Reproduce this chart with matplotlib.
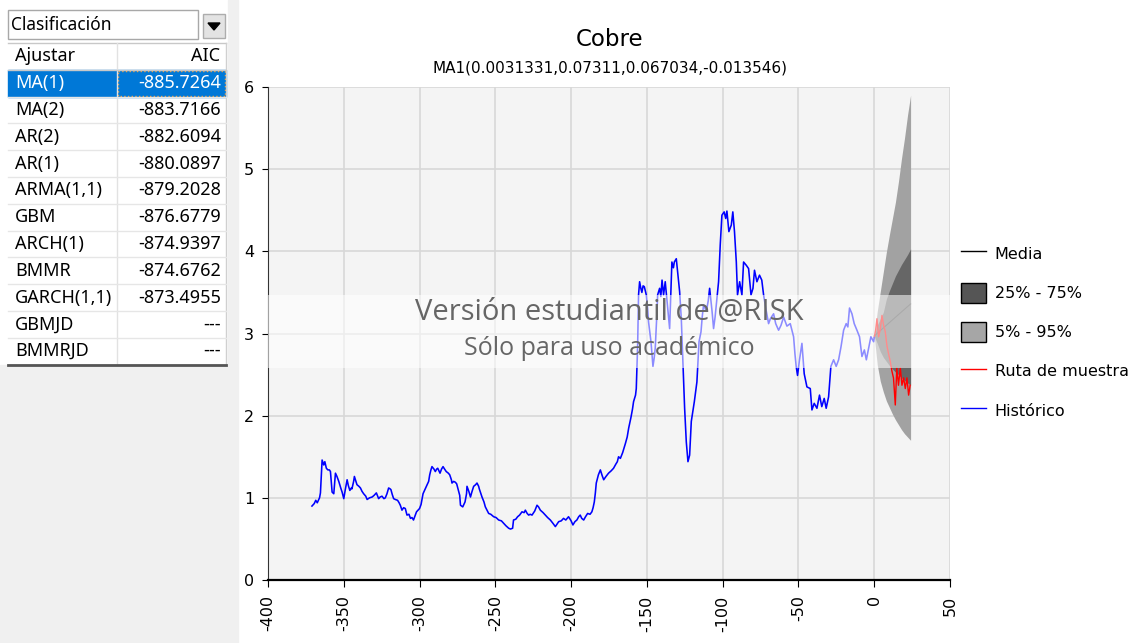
import matplotlib.pyplot as plt
from matplotlib.patches import Rectangle, Patch, Polygon
from matplotlib.lines import Line2D

plt.rcParams['axes.unicode_minus'] = False

# ---- data ----
models = ["MA(1)", "MA(2)", "AR(2)", "AR(1)", "ARMA(1,1)", "GBM", "ARCH(1)",
          "BMMR", "GARCH(1,1)", "GBMJD", "BMMRJD"]
aic = ["-885.7264", "-883.7166", "-882.6094", "-880.0897", "-879.2028", "-876.6779",
       "-874.9397", "-874.6762", "-873.4955", "---", "---"]

hist_t = [-371, -369.5, -368.5, -367.5, -366, -365.4, -364.3, -363.2, -362.5, -361.5,
          -360.5, -359.5, -358.8, -357.7, -356.6, -355.5, -354.5, -353.3, -352, -351.1,
          -350, -349, -347.8, -347, -346, -345, -344.6, -343.5, -343, -342,
          -341.3, -340, -339, -338, -336.9, -335.5, -334.6, -333, -331.3, -330,
          -328.5, -327, -326, -324.8, -323.5, -322.6, -321.5, -320.4, -319.5, -318.9,
          -318, -317.1, -316, -314.5, -313.5, -312.7, -311.6, -310.5, -309.4, -308.3,
          -307, -306, -305, -304, -303, -302, -301, -300, -299, -297.7,
          -296.5, -295, -294, -293.3, -292.5, -291.8, -290.5, -289.6, -288.7, -288,
          -287, -286.5, -285.5, -284.5, -283.5, -282.4, -281, -280.1, -279, -278.6,
          -277.5, -276.4, -275.5, -274.5, -273.5, -273, -271.5, -270.5, -270, -269,
          -268.7, -267.5, -266.4, -265.5, -264.3, -263, -262.1, -261, -260.6, -259.5,
          -258.8, -257.5, -256.6, -255.5, -254.4, -253, -251.1, -249.5, -247.8, -246,
          -244.5, -243, -241.2, -240, -238.6, -238, -236.5, -235.3, -234, -232.4,
          -231, -230.2, -229, -228, -227, -225.8, -224, -222.5, -221.5, -220.3,
          -218.5, -217, -215.5, -213.7, -212, -210.4, -209.3, -208.2, -206.5, -205,
          -203.5, -201.7, -200, -198.8, -197.5, -196.2, -195, -194, -193, -191.7,
          -190.5, -189.1, -187.5, -186.3, -185.5, -184.7, -184, -183.4, -182, -180.7,
          -179.5, -178.5, -177, -175.3, -173.5, -172, -170.5, -169.5, -168.7, -167.5,
          -166, -164.2, -163, -162, -160.5, -159.5, -158.8, -157.5, -157, -156.1,
          -155.5, -154.8, -154, -153.3, -152.5, -151.7, -150.4, -149.5, -148.9, -147.3,
          -146, -145.2, -144.5, -143.5, -142.9, -141.6, -140.8, -140, -139, -137.9,
          -137, -136.3, -135, -134.2, -133.5, -132.5, -131.9, -130.6, -129.7, -128.4,
          -127.3, -126.2, -125.1, -124, -122.9, -121.8, -120.7, -119.7, -118.7, -117,
          -115.6, -114.3, -113.5, -112.6, -110.8, -109.5, -108.6, -107, -106, -105,
          -104.2, -102.7, -101.6, -100.5, -99, -98, -97.2, -95.9, -94.3, -93.3,
          -92.2, -91, -90.2, -88.8, -87.3, -86.2, -84.4, -82.9, -81.3, -80,
          -79, -77.4, -75.7, -74.2, -73, -71.5, -69.7, -68.5, -66.4, -65,
          -63.1, -61.5, -59.8, -57.6, -55.4, -53.2, -52.3, -51.5, -50.6, -49.3,
          -47.7, -46.2, -44.4, -42.2, -41.1, -39.6, -37.8, -36.1, -34.6, -33,
          -31.7, -30.1, -28.6, -26.8, -25.1, -23.5, -21.9, -20.2, -18.5, -17.4,
          -16.3, -14.7, -13.2, -11.4, -9.7, -8.1, -6.5, -5.2, -3.7, -2.2,
          -0.4, 0]
hist_v = [0.90, 0.93, 0.97, 0.94, 1.00, 1.06, 1.46, 1.40, 1.44, 1.36,
          1.34, 1.34, 1.32, 1.07, 1.05, 1.30, 1.26, 1.20, 1.12, 1.07,
          0.99, 1.10, 1.22, 1.15, 1.09, 1.12, 1.11, 1.20, 1.26, 1.20,
          1.16, 1.14, 1.12, 1.08, 1.05, 1.02, 0.98, 1.00, 1.01, 1.03,
          1.06, 0.99, 1.01, 1.02, 0.99, 1.00, 1.05, 1.12, 1.11, 1.10,
          1.04, 0.99, 0.98, 0.97, 0.94, 0.91, 0.85, 0.88, 0.87, 0.79,
          0.80, 0.75, 0.76, 0.73, 0.78, 0.83, 0.85, 0.87, 0.92, 1.05,
          1.10, 1.16, 1.20, 1.28, 1.34, 1.38, 1.35, 1.32, 1.35, 1.36,
          1.32, 1.30, 1.35, 1.38, 1.35, 1.32, 1.30, 1.28, 1.22, 1.18,
          1.20, 1.19, 1.17, 1.10, 1.03, 0.91, 0.89, 0.93, 0.95, 1.05,
          1.14, 1.08, 1.01, 1.07, 1.14, 1.16, 1.18, 1.14, 1.11, 1.05,
          1.01, 0.95, 0.89, 0.85, 0.81, 0.80, 0.77, 0.76, 0.73, 0.72,
          0.69, 0.66, 0.63, 0.62, 0.63, 0.73, 0.74, 0.77, 0.79, 0.83,
          0.82, 0.85, 0.81, 0.79, 0.80, 0.79, 0.84, 0.91, 0.89, 0.85,
          0.82, 0.79, 0.76, 0.73, 0.69, 0.65, 0.68, 0.71, 0.72, 0.75,
          0.73, 0.77, 0.72, 0.67, 0.71, 0.73, 0.77, 0.79, 0.75, 0.73,
          0.77, 0.81, 0.80, 0.83, 0.88, 0.95, 1.06, 1.18, 1.28, 1.34,
          1.27, 1.22, 1.26, 1.30, 1.33, 1.36, 1.41, 1.44, 1.50, 1.48,
          1.55, 1.66, 1.74, 1.85, 1.98, 2.08, 2.17, 2.25, 2.33, 2.86,
          3.47, 3.63, 3.55, 3.50, 3.58, 3.57, 3.47, 3.30, 3.14, 2.90,
          2.60, 2.70, 2.82, 3.20, 3.47, 3.55, 3.45, 3.65, 3.47, 3.63,
          3.45, 3.31, 3.06, 3.50, 3.87, 3.80, 3.87, 3.91, 3.75, 3.51,
          3.18, 2.62, 2.09, 1.68, 1.44, 1.52, 1.93, 2.05, 2.17, 2.41,
          2.90, 3.02, 3.20, 3.35, 3.27, 3.40, 3.55, 3.27, 3.06, 3.20,
          3.35, 3.63, 4.08, 4.44, 4.48, 4.40, 4.49, 4.24, 4.32, 4.48,
          4.24, 3.87, 3.47, 3.63, 3.47, 3.87, 3.83, 3.79, 3.47, 3.55,
          3.77, 3.63, 3.71, 3.65, 3.47, 3.30, 3.12, 3.18, 3.24, 3.12,
          3.04, 3.10, 3.20, 3.09, 3.12, 2.96, 2.75, 2.60, 2.49, 2.68,
          2.88, 2.51, 2.35, 2.33, 2.07, 2.15, 2.09, 2.25, 2.11, 2.21,
          2.09, 2.23, 2.60, 2.68, 2.60, 2.68, 2.84, 3.04, 3.12, 3.08,
          3.31, 3.24, 3.12, 3.04, 2.96, 2.72, 2.80, 2.68, 2.82, 2.96,
          2.90, 2.95]

fan_t = [0, 2, 4, 6, 8, 10, 12, 14, 16, 18, 20, 22, 24]
p95 = [2.97, 3.27, 3.51, 3.75, 3.99, 4.20, 4.40, 4.60, 4.85, 5.13, 5.38, 5.66, 5.90]
p75 = [2.97, 3.10, 3.18, 3.26, 3.42, 3.52, 3.61, 3.70, 3.77, 3.84, 3.90, 3.96, 4.03]
p25 = [2.97, 2.88, 2.78, 2.71, 2.66, 2.61, 2.57, 2.53, 2.50, 2.46, 2.43, 2.40, 2.37]
p05 = [2.97, 2.62, 2.42, 2.29, 2.18, 2.10, 2.02, 1.95, 1.89, 1.83, 1.78, 1.74, 1.70]

mean_t = [0, 24]
mean_v = [2.97, 3.36]

path_t = [0, 1, 1.8, 2.9, 4, 5.1, 6.2, 7.3, 8.4, 9.5, 10.6, 11.7, 12.7, 13.3, 13.9,
          14.9, 16, 17.2, 18.3, 19.4, 20.5, 21.6, 22.7, 23.7]
path_v = [2.95, 3.05, 3.18, 2.96, 3.05, 3.22, 3.10, 3.02, 2.85, 2.75, 2.66, 2.54, 2.46,
          2.30, 2.13, 2.58, 2.37, 2.58, 2.37, 2.46, 2.33, 2.46, 2.25, 2.37]

W, H = 1137, 643
fig = plt.figure(figsize=(W / 100, H / 100), dpi=100)
fig.patch.set_facecolor('white')

# ---- left panel (pixel coordinates) ----
pan = fig.add_axes([0, 0, 1, 1], zorder=0)
pan.set_xlim(0, W)
pan.set_ylim(H, 0)
pan.axis('off')
tfont = 'Noto Sans'
tsize = 13
pan.add_patch(Rectangle((228, 0), 10, H, color='#f0f0f0'))
pan.add_patch(Rectangle((0, 365), 228, H - 365, color='#f0f0f0'))
pan.add_patch(Rectangle((8, 10), 190, 29, facecolor='white', edgecolor='#a8a8a8', lw=1))
pan.text(11, 24.5, 'Clasificación', ha='left', va='center', fontsize=tsize - 0.5, family=tfont)
pan.add_patch(Rectangle((203, 14), 22, 24, facecolor='#e3e3e3', edgecolor='#adadad', lw=1))
pan.add_patch(Polygon([[208, 23], [220, 23], [214, 30]], closed=True, color='black'))

row_h = 26.8
top = 43
pan.plot([8, 226], [top, top], color='#c8c8c8', lw=1)
pan.plot([117, 117], [top, top + row_h * 12], color='#e2e2e2', lw=1)
pan.plot([226, 226], [top, top + row_h * 12], color='#d0d0d0', lw=1)
pan.text(15, top + row_h / 2, 'Ajustar', ha='left', va='center', fontsize=tsize, family=tfont)
pan.text(220, top + row_h / 2, 'AIC', ha='right', va='center', fontsize=tsize, family=tfont)
pan.plot([8, 226], [top + row_h, top + row_h], color='#c8c8c8', lw=1)
for i, (m, a) in enumerate(zip(models, aic)):
    y0 = top + row_h * (i + 1)
    col = 'black'
    if i == 0:
        pan.add_patch(Rectangle((8, y0), 218, row_h, color='#0078d7'))
        pan.add_patch(Rectangle((118, y0 + 1), 107, row_h - 2, fill=False,
                                edgecolor='#f0a040', ls=':', lw=1))
        col = 'white'
    pan.text(15, y0 + row_h / 2, m, ha='left', va='center', fontsize=tsize, family=tfont, color=col)
    pan.text(221, y0 + row_h / 2, a, ha='right', va='center', fontsize=tsize, family=tfont, color=col)
    pan.plot([8, 226], [y0 + row_h, y0 + row_h], color='#e6e6e6', lw=1)
pan.plot([8, 226], [top + row_h * 12, top + row_h * 12], color='#555555', lw=2)

# ---- main chart ----
ax = fig.add_axes([268 / W, 1 - 580 / H, 682 / W, 493 / H], zorder=1)
ax.set_facecolor('#f4f4f4')
ax.set_xlim(-400, 50)
ax.set_ylim(0, 6)
ax.set_xticks(range(-400, 51, 50))
ax.set_yticks(range(0, 7))
ax.grid(True, color='#d8d8d8', lw=1.2)
ax.set_axisbelow(True)
for s in ['top', 'right']:
    ax.spines[s].set_visible(False)
ax.spines['left'].set_color('#333333')
ax.spines['bottom'].set_color('black')
ax.spines['bottom'].set_linewidth(1.6)
ax.tick_params(axis='x', length=5, pad=6, labelsize=11.5, labelrotation=90)
ax.tick_params(axis='y', length=4, pad=6, labelsize=11.5)
for lab in ax.get_xticklabels():
    lab.set_va('top')

ax.fill_between(fan_t, p05, p95, color='#a2a2a2', lw=0, zorder=2)
ax.fill_between(fan_t, p25, p75, color='#666666', lw=0, zorder=2)
ax.plot(mean_t, mean_v, color='#444444', lw=0.8, zorder=3)
ax.plot(path_t, path_v, color='#ff0000', lw=1, zorder=3)
ax.plot(hist_t, hist_v, color='#0000ff', lw=1.15, zorder=3)

# watermark band
ax.axhspan(2.58, 3.47, color='white', alpha=0.55, lw=0, zorder=4)
ax.text(0.5, 3.26, 'Versión estudiantil de @RISK', transform=ax.get_yaxis_transform(),
        ha='center', va='center', fontsize=21, color='#666666', family='Open Sans', zorder=5)
ax.text(0.5, 2.82, 'Sólo para uso académico', transform=ax.get_yaxis_transform(),
        ha='center', va='center', fontsize=18, color='#666666', family='Open Sans', zorder=5)

fig.text(610 / W, 1 - 40 / H, 'Cobre', ha='center', va='center', fontsize=16.5)
fig.text(610 / W, 1 - 68 / H, 'MA1(0.0031331,0.07311,0.067034,-0.013546)',
         ha='center', va='center', fontsize=11)

handles = [Line2D([], [], color='black', lw=1),
           Patch(facecolor='#555555', edgecolor='black'),
           Patch(facecolor='#a6a6a6', edgecolor='black'),
           Line2D([], [], color='red', lw=1),
           Line2D([], [], color='blue', lw=1)]
labels = ['Media', '25% - 75%', '5% - 95%', 'Ruta de muestra', 'Histórico']
fig.legend(handles, labels, loc='center left', bbox_to_anchor=(961 / W, 1 - 332 / H),
           frameon=False, fontsize=11.5, handlelength=1.55, handleheight=1.55,
           labelspacing=1.2, handletextpad=0.55, borderpad=0, borderaxespad=0)

fig.savefig('out.png', dpi=100)
